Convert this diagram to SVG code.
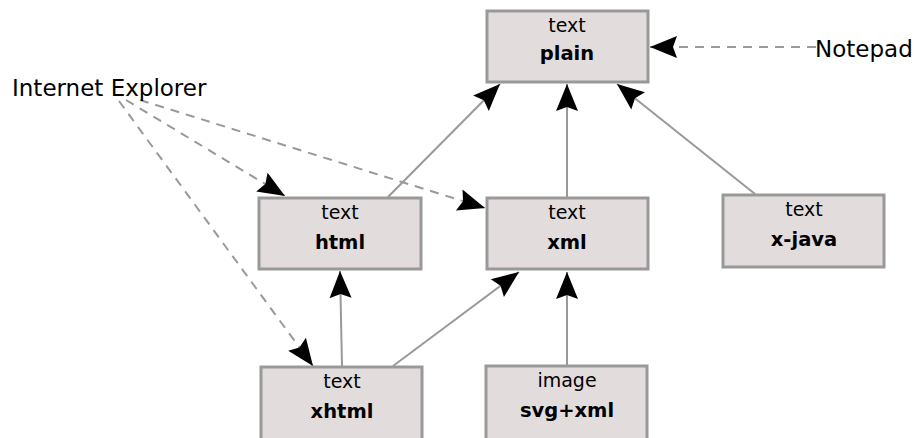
<svg xmlns="http://www.w3.org/2000/svg" width="915" height="438" viewBox="0 0 915 438">
  <style>
    .box { fill: #e3dcdc; stroke: #999999; stroke-width: 3; }
    .t { font-family: "DejaVu Sans", sans-serif; font-size: 19px; fill: #000; text-anchor: middle; }
    .b { font-weight: bold; font-size: 19.5px; }
    .lbl { font-family: "DejaVu Sans", sans-serif; font-size: 23px; fill: #000; }
    .edge { stroke: #999999; stroke-width: 2; fill: none; marker-end: url(#arr); }
    .dash { stroke-dasharray: 9 7; }
  </style>
  <defs>
    <marker id="arr" markerUnits="userSpaceOnUse" viewBox="-30 -13 32 26" refX="0" refY="0" markerWidth="32" markerHeight="26" orient="auto">
      <path d="M0,0 L-27,-11 L-23,0 L-27,11 Z" fill="#000"/>
    </marker>
  </defs>

  <g id="edges">
    <line class="edge" x1="388" y1="197" x2="500" y2="84"/>
    <line class="edge" x1="567" y1="197" x2="567" y2="84"/>
    <line class="edge" x1="755" y1="194" x2="617" y2="84"/>
    <line class="edge" x1="342" y1="366" x2="340" y2="271"/>
    <line class="edge" x1="393" y1="366" x2="519" y2="272"/>
    <line class="edge" x1="567" y1="365" x2="567" y2="272"/>
    <line class="edge dash" x1="816" y1="47" x2="650" y2="47"/>
    <line class="edge dash" x1="126" y1="100" x2="285" y2="196"/>
    <line class="edge dash" x1="140" y1="100" x2="485" y2="208"/>
    <line class="edge dash" x1="119" y1="101" x2="313" y2="366"/>
  </g>

  <g id="plain">
    <rect class="box" x="487" y="11" width="161" height="71"/>
    <text class="t" x="567" y="32">text</text>
    <text class="t b" x="567" y="60">plain</text>
  </g>
  <g id="html">
    <rect class="box" x="259" y="198" width="162" height="71"/>
    <text class="t" x="340" y="219">text</text>
    <text class="t b" x="340" y="249">html</text>
  </g>
  <g id="xml">
    <rect class="box" x="487" y="198" width="161" height="71"/>
    <text class="t" x="567" y="219">text</text>
    <text class="t b" x="567" y="249">xml</text>
  </g>
  <g id="x-java">
    <rect class="box" x="723" y="195" width="161" height="72"/>
    <text class="t" x="804" y="216">text</text>
    <text class="t b" x="804" y="246">x-java</text>
  </g>
  <g id="xhtml">
    <rect class="box" x="261" y="367" width="161" height="75"/>
    <text class="t" x="342" y="388">text</text>
    <text class="t b" x="342" y="418">xhtml</text>
  </g>
  <g id="svg-xml">
    <rect class="box" x="486" y="366" width="161" height="76"/>
    <text class="t" x="567" y="387">image</text>
    <text class="t b" x="567" y="417">svg+xml</text>
  </g>
  <g id="notepad">
    <text class="lbl" x="815" y="57">Notepad</text>
  </g>
  <g id="internet-explorer">
    <text class="lbl" x="12" y="96">Internet Explorer</text>
  </g>
</svg>
